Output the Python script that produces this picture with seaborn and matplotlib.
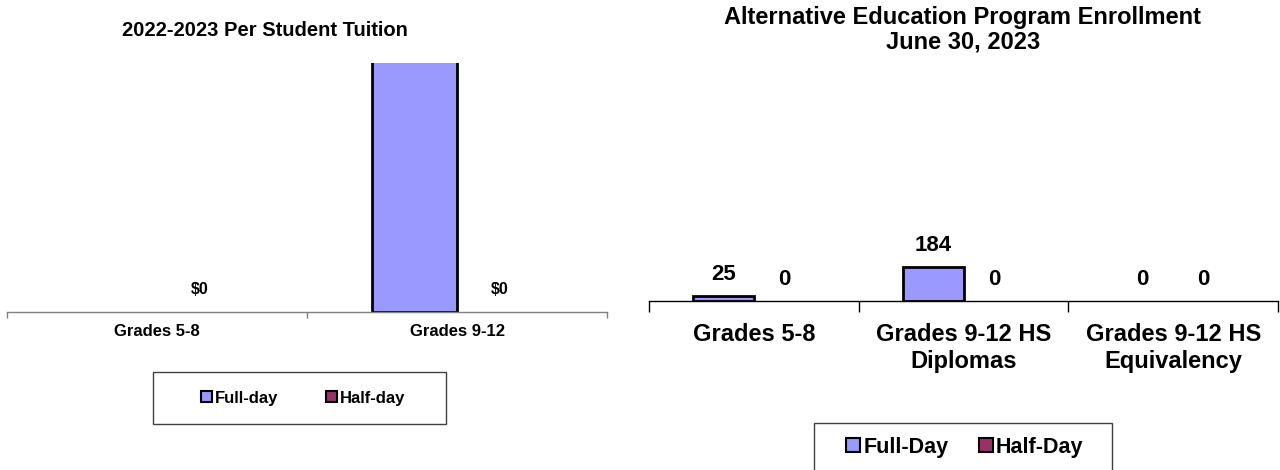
import numpy as np
import pandas as pd
import matplotlib
matplotlib.use("Agg")
import matplotlib.pyplot as plt
from matplotlib.patches import Patch, Rectangle
import seaborn as sns

# left chart: per student tuition (full-day 9-12 runs off the top of the chart)
tuition_grades = ["Grades 5-8", "Grades 9-12"]
tuition_full = [np.nan, 14000]
tuition_half = [0, 0]
tuition_ymax = 10000

# right chart: enrollment on June 30, 2023
enroll_grades = ["Grades 5-8", "Grades 9-12 HS\nDiplomas", "Grades 9-12 HS\nEquivalency"]
enroll_full = [25, 184, 0]
enroll_half = [0, 0, 0]
enroll_ymax = 1200

FULL_COLOR = "#9999FF"
HALF_COLOR = "#993366"

sns.set_style("white")
plt.rcParams["font.family"] = ["Liberation Sans", "DejaVu Sans"]
plt.rcParams["font.weight"] = "bold"
plt.rcParams["text.color"] = "black"
plt.rcParams["xtick.color"] = "black"
plt.rcParams["xtick.labelcolor"] = "black"


def to_long(grades, full, half, full_name, half_name):
    rows = []
    for g, f, h in zip(grades, full, half):
        rows.append({"grade": g, "type": full_name, "value": f})
        rows.append({"grade": g, "type": half_name, "value": h})
    return pd.DataFrame(rows)


def style_axis(ax, n, label_size, tick_len, spine_color, pad):
    ax.set_xlim(-0.5, n - 0.5)
    for side in ["left", "top", "right"]:
        ax.spines[side].set_visible(False)
    ax.spines["bottom"].set_color(spine_color)
    ax.spines["bottom"].set_linewidth(1.0)
    ax.set_yticks([])
    ax.set_xlabel("")
    ax.set_ylabel("")
    ax.set_xticks(np.arange(-0.5, n, 1.0), minor=True)
    ax.tick_params(axis="x", which="minor", bottom=True, length=tick_len,
                   color=spine_color, width=1)
    ax.tick_params(axis="x", which="major", bottom=True, length=0,
                   labelsize=label_size, pad=pad, labelcolor="black")
    for t in ax.get_xticklabels():
        t.set_fontweight("bold")
    # zero-height bars show nothing in the original
    for p in ax.patches:
        if p.get_height() == 0:
            p.set_linewidth(0)


def add_labels(ax, series, ymax, fmt, size, pad):
    for cont, vals in zip(ax.containers, series):
        kept = [v for v in vals if not np.isnan(v)]
        labels = [fmt(v) if v <= ymax else "" for v in kept]
        ax.bar_label(cont, labels=labels, padding=pad, fontsize=size,
                     fontweight="bold", color="black")


fig = plt.figure(figsize=(12.8, 4.7), dpi=100)

# ---- left chart
ax1 = fig.add_axes([7 / 1280, 1 - 312 / 470, 600 / 1280, 249 / 470])
df1 = to_long(tuition_grades, tuition_full, tuition_half, "Full-day", "Half-day")
sns.barplot(data=df1, x="grade", y="value", hue="type", order=tuition_grades,
            hue_order=["Full-day", "Half-day"], palette=[FULL_COLOR, HALF_COLOR],
            saturation=1, width=0.57, edgecolor="black", linewidth=2,
            errorbar=None, legend=False, ax=ax1)
ax1.set_ylim(0, tuition_ymax)
style_axis(ax1, len(tuition_grades), 12, 4, "#808080", 9)
add_labels(ax1, [tuition_full, tuition_half], tuition_ymax,
           lambda v: f"${v:,.0f}", 11.5, 11)
fig.text(265 / 1280, 1 - 30 / 470, "2022-2023 Per Student Tuition",
         ha="center", va="center", fontsize=14.5, fontweight="bold")

# ---- right chart
ax2 = fig.add_axes([649 / 1280, 1 - 301 / 470, 629 / 1280, 221 / 470])
df2 = to_long(enroll_grades, enroll_full, enroll_half, "Full-Day", "Half-Day")
sns.barplot(data=df2, x="grade", y="value", hue="type", order=enroll_grades,
            hue_order=["Full-Day", "Half-Day"], palette=[FULL_COLOR, HALF_COLOR],
            saturation=1, width=0.58, edgecolor="black", linewidth=2,
            errorbar=None, legend=False, ax=ax2)
ax2.set_ylim(0, enroll_ymax)
style_axis(ax2, len(enroll_grades), 17, 8, "black", 16)
add_labels(ax2, [enroll_full, enroll_half], enroll_ymax,
           lambda v: f"{v:.0f}", 16, 8)
fig.text(963 / 1280, 1 - 30 / 470,
         "Alternative Education Program Enrollment\nJune 30, 2023",
         ha="center", va="center", fontsize=17, fontweight="bold", linespacing=1.1)


# ---- legends (square keys, boxed)
def boxed_legend(names, center, box, size, colspace):
    handles = [Patch(facecolor=FULL_COLOR, edgecolor="black", linewidth=1.5, label=names[0]),
               Patch(facecolor=HALF_COLOR, edgecolor="black", linewidth=1.5, label=names[1])]
    leg = fig.legend(handles=handles, loc="center", ncol=2, frameon=False,
                     bbox_to_anchor=(center[0] / 1280, 1 - center[1] / 470),
                     prop={"size": size, "weight": "bold"},
                     handlelength=0.65, handleheight=0.65, handletextpad=0.15,
                     columnspacing=colspace, borderaxespad=0)
    for t in leg.get_texts():
        t.set_color("black")
    x0, y0, x1, y1 = box
    fig.patches.append(Rectangle((x0 / 1280, 1 - y1 / 470), (x1 - x0) / 1280,
                                 (y1 - y0) / 470, transform=fig.transFigure,
                                 fill=False, edgecolor="#404040", linewidth=1,
                                 clip_on=False))
    return leg


boxed_legend(["Full-day", "Half-day"], (303, 398), (153, 372, 446, 424), 12, 2.9)
boxed_legend(["Full-Day", "Half-Day"], (965, 447), (814, 423, 1112, 482), 15.5, 1.4)

fig.savefig("out.png", dpi=100)
